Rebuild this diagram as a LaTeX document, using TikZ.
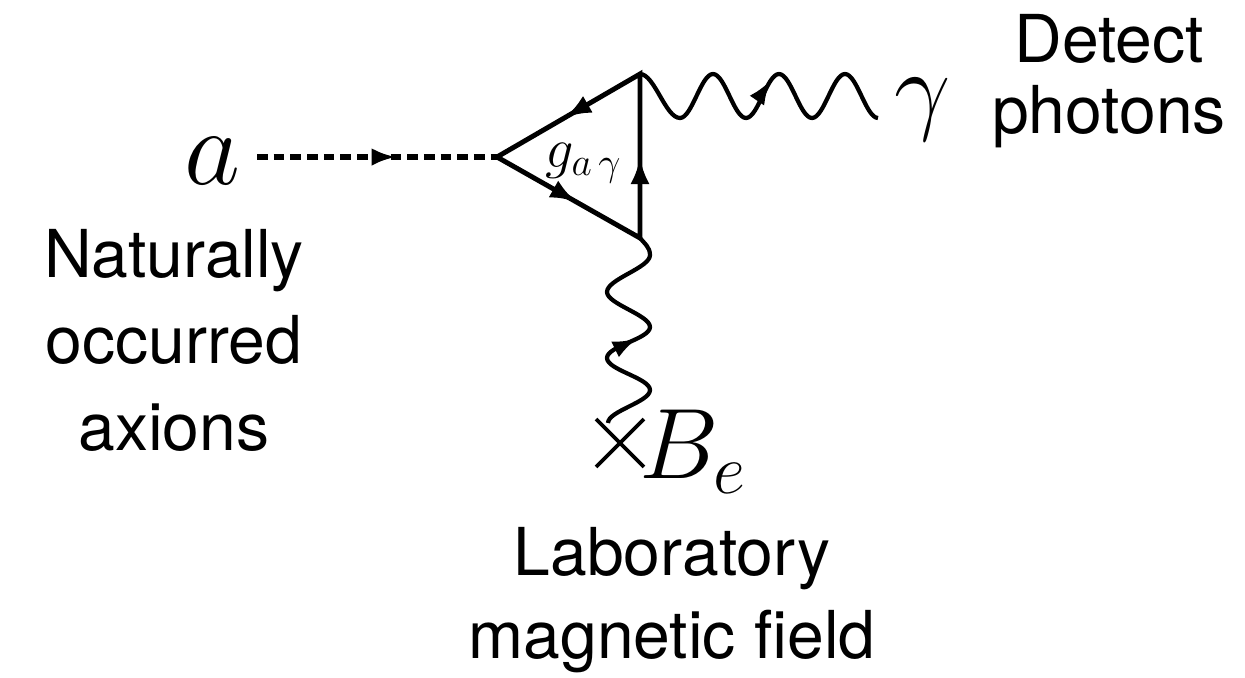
\RequirePackage{fix-cm}
\documentclass[tikz,border=0pt]{standalone}
\usepackage{fontspec}
\setsansfont{TeX Gyre Heros}
\usetikzlibrary{
  arrows.meta,
  decorations.markings,
  shapes.misc
}

\begin{document}
\begin{tikzpicture}[
  x=0.02cm, y=-0.02cm,
  textlbl/.style={
    font=\sffamily\fontsize{37.6}{49}\selectfont,
    align=center,
    inner sep=0pt,
    anchor=base
  },
  mathlbl/.style={
    font=\fontsize{57}{60}\selectfont,
    inner sep=0pt,
    anchor=base
  },
  fermline/.style={
    line width=2.8pt,
    line join=miter
  },
  scalarline/.style={
    line width=3.1pt,
    dash pattern=on 6.1pt off 3.4pt
  },
  wavyline/.style={
    line width=2.4pt,
    line join=round
  },
  midarrow/.style={
    postaction={decorate},
    decoration={markings,
      mark=at position #1 with {\arrow{Latex[length=14pt,width=10pt]}}}
  }
]
\useasboundingbox (0,0) rectangle (1245,677);

% vertices of the loop
\coordinate (vl) at (497,157);
\coordinate (vt) at (640,74);
\coordinate (vb) at (640,238);
\coordinate (astart) at (257,157);
\coordinate (fieldend) at (608,423);

\node[mathlbl, font=\fontsize{62}{64}\selectfont] (axion) at (212,184) {$a$};
\node[mathlbl] (photon) at (923,121) {$\gamma$};
\node[mathlbl, anchor=base west] (bfield) at (639,478) {$B_e$};
\node[mathlbl, anchor=base west, font=\fontsize{32}{36}\selectfont] (coupling) at (545,167) {$g_{a\,\gamma}$};
\node[cross out, draw, line width=2.2pt, minimum size=0.88cm, inner sep=0pt] (bcross) at (620,443) {};

\node[textlbl] (axionlbl) at (174,450) {Naturally\\occurred\\axions};
\node[textlbl, font=\sffamily\fontsize{37.6}{40}\selectfont] (photonlbl) at (1109,133) {Detect\\photons};
\node[textlbl, font=\sffamily\fontsize{37.6}{47}\selectfont] (bfieldlbl) at (672,658) {Laboratory\\magnetic field};

% triangle loop
\draw[fermline, postaction={decorate},
  decoration={markings,
    mark=at position 0.176 with {\arrow{Latex[length=15pt,width=11pt]}},
    mark=at position 0.52 with {\arrow{Latex[length=15pt,width=11pt]}},
    mark=at position 0.83 with {\arrow{Latex[length=15pt,width=11pt]}}}]
  (vt) -- (vl) -- (vb) -- cycle;

% incoming axion
\draw[scalarline, midarrow=0.58] (astart) -- (vl);

% outgoing photon
\draw[wavyline, midarrow=0.55] (vt) cos ++(20,22) sin ++(20,22)
  foreach \i in {1,2,3} { cos ++(16.5,-22) sin ++(16.5,-22) cos ++(16.5,22) sin ++(16.5,22) };

% external field line
\draw[wavyline, midarrow=0.49] (fieldend)
  .. controls +(0,-12) and +(0,12) .. ++(42,-33)
  .. controls +(0,-12) and +(0,12) .. ++(-43,-32)
  .. controls +(0,-12) and +(0,12) .. ++(43,-31)
  .. controls +(0,-12) and +(0,12) .. ++(-43,-35)
  .. controls +(0,-13) and +(0,13) .. ++(43,-37)
  .. controls +(0,-8) and +(4,5) .. (vb);

\end{tikzpicture}
\end{document}
